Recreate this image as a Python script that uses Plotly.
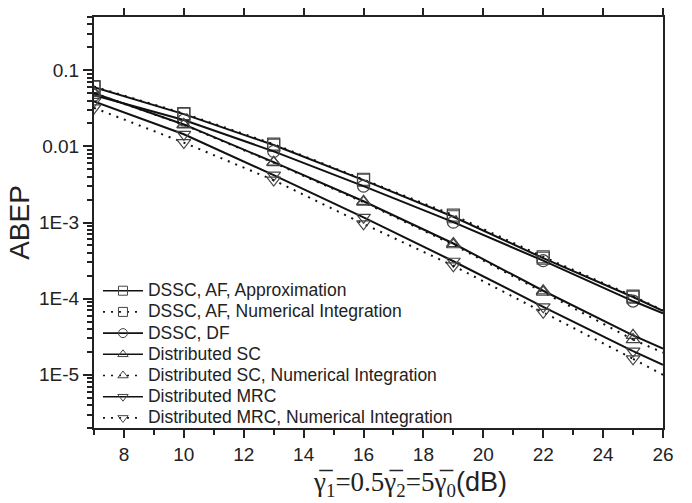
import plotly.graph_objects as go

snr = [7, 10, 13, 16, 19, 22, 25, 26]
af_approx = [0.060, 0.0265, 0.0104, 0.0036, 0.00119, 3.4e-4, 1.05e-4, 6.9e-5]
af_numint = [0.061, 0.0270, 0.0107, 0.0037, 0.00125, 3.55e-4, 1.08e-4, 7.0e-5]
dssc_df = [0.047, 0.0222, 0.0086, 0.0030, 0.00101, 3.15e-4, 9.3e-5, 6.4e-5]
dist_sc = [0.050, 0.0194, 0.0062, 0.0019, 5.3e-4, 1.27e-4, 3.3e-5, 2.2e-5]
dist_sc_numint = [0.050, 0.0192, 0.0061, 0.00185, 5.1e-4, 1.22e-4, 2.9e-5, 1.95e-5]
dist_mrc = [0.039, 0.0144, 0.0042, 0.00117, 3.1e-4, 7.8e-5, 2.05e-5, 1.35e-5]
dist_mrc_numint = [0.032, 0.0112, 0.0036, 0.00096, 2.7e-4, 6.6e-5, 1.62e-5, 1.0e-5]

names = ["DSSC, AF, Approximation", "DSSC, AF, Numerical Integration", "DSSC, DF",
         "Distributed SC", "Distributed SC, Numerical Integration",
         "Distributed MRC", "Distributed MRC, Numerical Integration"]
series = [af_approx, af_numint, dssc_df, dist_sc, dist_sc_numint, dist_mrc, dist_mrc_numint]
symbols = ["square-open", "square-open", "circle-open", "triangle-up-open", "triangle-up-open",
           "triangle-down-open", "triangle-down-open"]
dashes = ["solid", "2px,6px", "solid", "solid", "2px,6px", "solid", "2px,6px"]

INK = "#111111"
MARK = "#444444"

fig = go.Figure()
for name, ys, sym, dash in zip(names, series, symbols, dashes):
    # marked part of the curve (markers every 3 dB)
    fig.add_trace(go.Scatter(
        x=snr[:-1], y=ys[:-1], mode="lines+markers", name=name, showlegend=False,
        line=dict(color=INK, width=2, dash=dash),
        marker=dict(symbol=sym, size=12, color=MARK, line=dict(width=1.2, color=MARK)),
    ))
    # unmarked tail up to 26 dB
    fig.add_trace(go.Scatter(
        x=snr[-2:], y=ys[-2:], mode="lines", showlegend=False, hoverinfo="skip",
        line=dict(color=INK, width=2, dash=dash),
    ))
    # legend entry (smaller symbol, as in the reference legend)
    fig.add_trace(go.Scatter(
        x=[None], y=[None], mode="lines+markers",
        name="<span style='font-size:17.5px'>" + name + "</span>",
        line=dict(color=INK, width=1.6, dash=dash),
        marker=dict(symbol=sym, size=9, color=MARK, line=dict(width=1, color=MARK)),
    ))

fig.add_trace(go.Scatter(x=[7, 26], y=[0.001, 0.001], xaxis="x2", mode="lines",
                         line=dict(width=0), showlegend=False, hoverinfo="skip"))

ytick_vals = [1e-5, 1e-4, 1e-3, 0.01, 0.1]
ytick_text = ["1E-5", "1E-4", "1E-3", "0.01", "0.1"]
yminor = [m * 10 ** e for e in range(-6, 0) for m in range(2, 10)]
yminor = [v for v in yminor if 2e-6 <= v <= 0.5]

xtick_vals = [8, 10, 12, 14, 16, 18, 20, 22, 24, 26]

axis_font = dict(family="Liberation Sans, Arial, sans-serif", size=19, color="#222222")

fig.update_layout(
    width=692, height=503,
    margin=dict(l=94, r=29, t=9, b=75),
    paper_bgcolor="white", plot_bgcolor="white",
    font=dict(family="Liberation Sans, Arial, sans-serif", color="#222222"),
    showlegend=True,
    legend=dict(x=0.007, y=0.372, xanchor="left", yanchor="top",
                bgcolor="rgba(0,0,0,0)", borderwidth=0,
                font=dict(size=14, family="Liberation Sans, Arial, sans-serif", color="#222222"),
                tracegroupgap=0, itemwidth=40),
    xaxis=dict(range=[7, 26], tickvals=xtick_vals, ticks="outside", ticklen=8, tickwidth=1.5,
               tickcolor="#222222", showline=True, linewidth=2, linecolor="#222222",
               mirror=True, showgrid=False, zeroline=False, tickfont=axis_font,
               minor=dict(tickvals=[7, 9, 11, 13, 15, 17, 19, 21, 23, 25], ticks="outside",
                          ticklen=5, tickwidth=1.5, tickcolor="#222222", showgrid=False)),
    xaxis2=dict(range=[7, 26], overlaying="x", side="top", tickvals=xtick_vals,
                ticks="outside", ticklen=8, tickwidth=1.5, tickcolor="#222222",
                showticklabels=False, showline=False, showgrid=False, zeroline=False),
    yaxis=dict(type="log", range=[-5.699, -0.301], tickvals=ytick_vals, ticktext=ytick_text,
               ticks="outside", ticklen=9, tickwidth=1.5, tickcolor="#222222",
               showline=True, linewidth=2, linecolor="#222222", mirror=True,
               showgrid=False, zeroline=False, tickfont=axis_font,
               minor=dict(tickvals=yminor, ticks="outside", ticklen=5, tickwidth=1.5,
                          tickcolor="#222222", showgrid=False),
               title=dict(text="ABEP", font=dict(size=28, family="Liberation Sans, Arial, sans-serif"),
                          standoff=1)),
    annotations=[dict(
        text="<span style='font-family:Liberation Serif, Times New Roman, serif'>γ\u0305<sub>1</sub>=0.5γ\u0305<sub>2</sub>=5γ\u0305<sub>0</sub></span>(dB)",
        xref="paper", yref="paper", x=0.555, y=-0.136, xanchor="center", yanchor="middle",
        showarrow=False, font=dict(size=27, family="Liberation Sans, Arial, sans-serif", color="#222222"))],
)

fig.write_html("out.html", post_script="document.body.style.margin='0px';",
               config={"displayModeBar": False})
